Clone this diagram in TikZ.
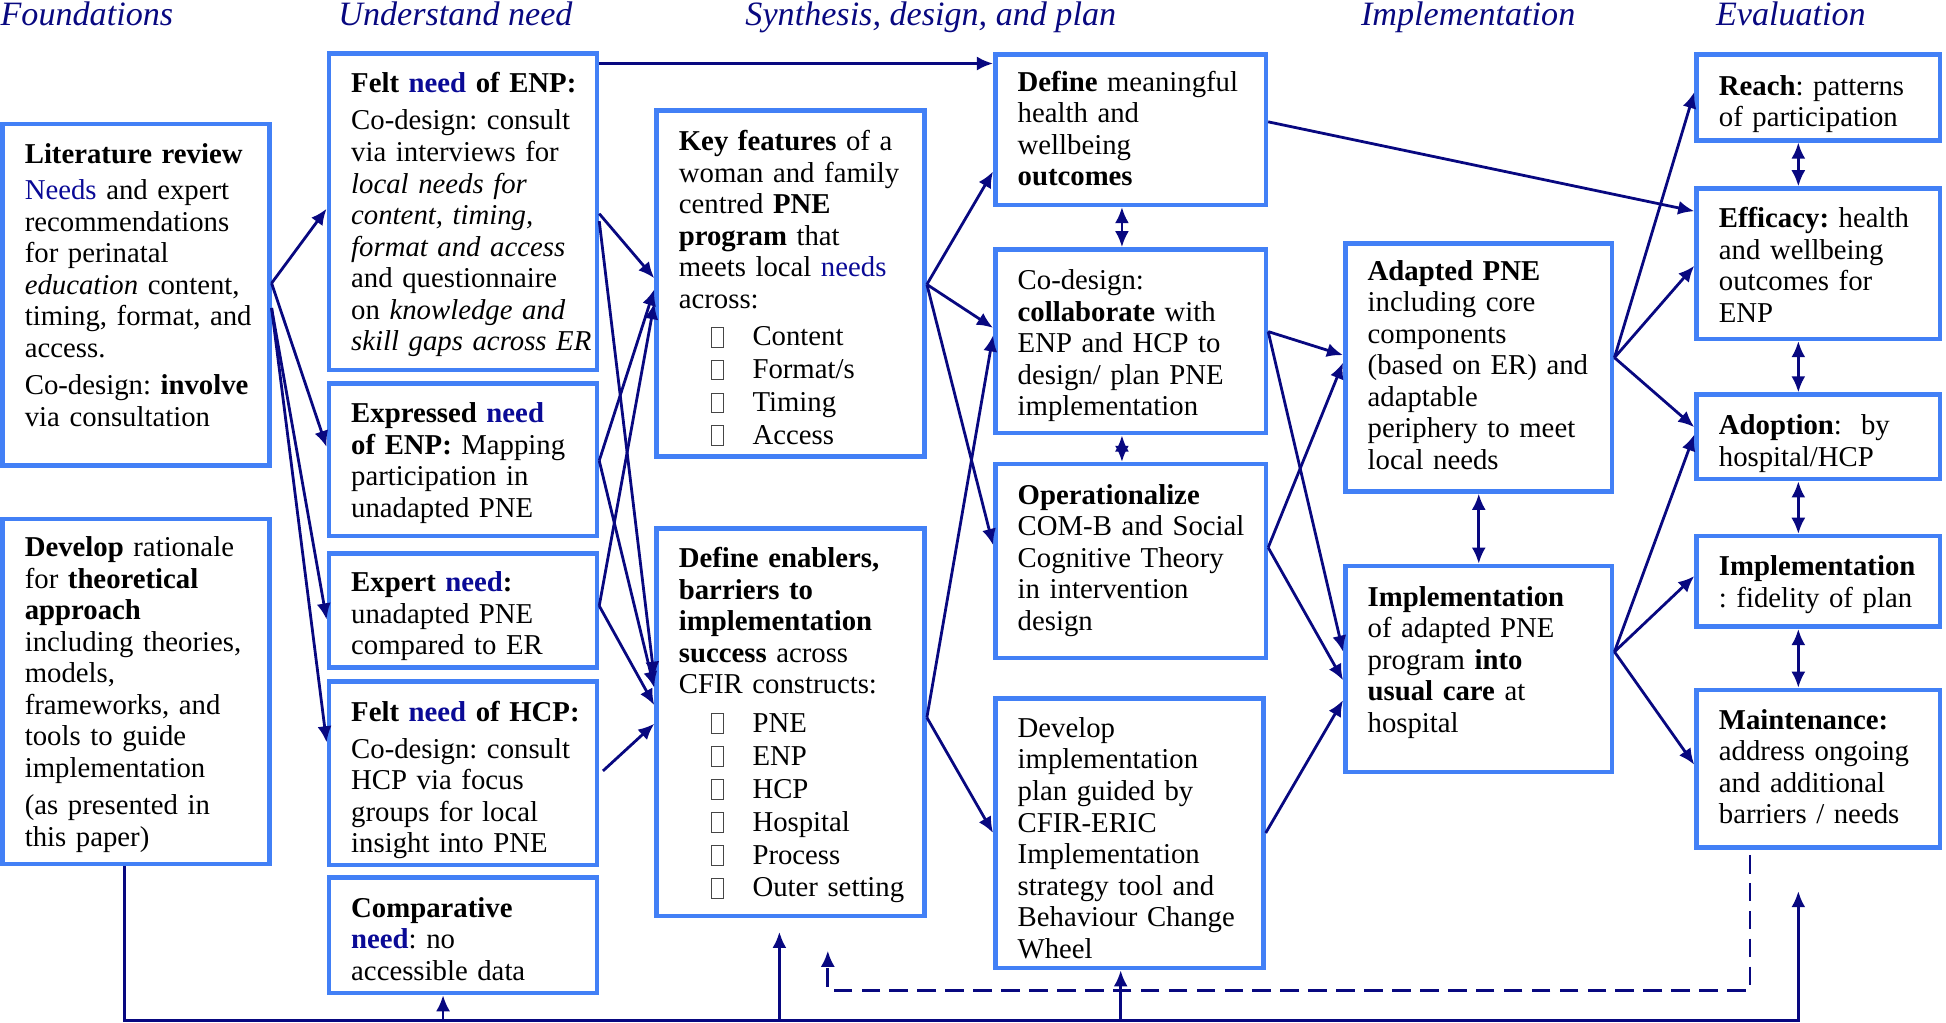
\documentclass[tikz,border=0pt]{standalone}
\usepackage{fontspec}
\setmainfont{Liberation Serif}
\usetikzlibrary{arrows.meta,calc}
\frenchspacing
\definecolor{boxblue}{RGB}{66,128,246}
\definecolor{navyc}{RGB}{8,8,128}
\definecolor{needc}{RGB}{10,10,150}
\definecolor{cbgray}{RGB}{70,70,70}
\newcommand\nd[1]{\textcolor{needc}{#1}}
\newcommand\cbx{\textcolor{cbgray}{\raisebox{-0.4pt}{\setlength{\fboxsep}{0pt}\setlength{\fboxrule}{0.5pt}\fbox{\rule{0pt}{9pt}\hspace{5.2pt}}}}}
\newcommand\li[1]{\hspace*{15.6pt}\cbx\hspace{13.8pt}#1}
\newcommand\tb[2][2.4pt]{\raisebox{-#1}[\height][\depth]{\begin{tabular}{@{}l@{}}#2\end{tabular}}}
\begin{document}
\begin{tikzpicture}[x=0.6pt,y=-0.6pt,
 box/.style={draw=boxblue,fill=white,line width=2.2pt,inner xsep=10.8pt,inner ysep=0pt,align=left,font=\fontsize{13.9}{15.24}\selectfont\frenchspacing,text=black},
 arr/.style={draw=navyc,line width=1.35pt,-{Latex[length=7.8pt,width=6.8pt]}},
 darr/.style={draw=navyc,line width=1.35pt,{Latex[length=7.8pt,width=6.8pt]}-{Latex[length=7.8pt,width=6.8pt]}},
 ttl/.style={font=\fontsize{16.5}{18}\selectfont\itshape,text=navyc,anchor=base,inner sep=0pt}]
\useasboundingbox (0,0) rectangle (1568,824);

% titles
\node[ttl] (t1) at (70,20.5) {Foundations};
\node[ttl] (t2) at (367,20.5) {Understand need};
\node[ttl] (t3) at (750,20.5) {Synthesis, design, and plan};
\node[ttl] (t4) at (1183,20.5) {Implementation};
\node[ttl] (t5) at (1443,20.5) {Evaluation};

% column 1
\node[box,text width=107.4pt,minimum height=165pt] (lit) at (109.5,237.5) {\tb[-3pt]{\textbf{Literature review}\\[2.2pt] \nd{Needs} and expert\\ recommendations\\ for perinatal\\ \textit{education} content,\\ timing, format, and\\ access.\\[2.8pt] Co-design: \textbf{involve}\\ via consultation}};
\node[box,text width=107.4pt,minimum height=166.8pt] (dev) at (109.5,557) {\tb[1.8pt]{\textbf{Develop} rationale\\ for \textbf{theoretical}\\ \textbf{approach}\\ including theories,\\ models,\\ frameworks, and\\ tools to guide\\ implementation\\[2.8pt] (as presented in\\ this paper)}};

% column 2
\node[box,text width=108pt,minimum height=153pt] (fENP) at (373,170.5) {\tb[1.8pt]{\textbf{Felt \nd{need} of ENP:}\\[2.8pt] Co-design: consult\\ via interviews for\\ \textit{local needs for}\\ \textit{content, timing,}\\ \textit{format and access}\\ and questionnaire\\ on \textit{knowledge and}\\ \textit{skill gaps across ER}}};
\node[box,text width=108pt,minimum height=73.8pt] (expr) at (373,370.5) {\tb[1.8pt]{\textbf{Expressed \nd{need}}\\ \textbf{of ENP:} Mapping\\ participation in\\ unadapted PNE}};
\node[box,text width=108pt,minimum height=55.2pt] (expt) at (373,492) {\tb[3pt]{\textbf{Expert \nd{need}:}\\ unadapted PNE\\ compared to ER}};
\node[box,text width=108pt,minimum height=88.8pt] (fHCP) at (373,623) {\tb[3.6pt]{\textbf{Felt \nd{need} of HCP:}\\[2.8pt] Co-design: consult\\ HCP via focus\\ groups for local\\ insight into PNE}};
\node[box,text width=108pt,minimum height=55.8pt] (comp) at (373,753.5) {\tb[3.6pt]{\textbf{Comparative}\\ \textbf{\nd{need}}: no\\ accessible data}};

% column 3
\node[box,text width=108pt,minimum height=167.4pt] (key) at (637,228.5) {\tb[3.6pt]{\textbf{Key features} of a\\ woman and family\\ centred \textbf{PNE}\\ \textbf{program} that\\ meets local \nd{needs}\\ across:\\[3pt] \li{Content}\\[0.6pt] \li{Format/s}\\[0.6pt] \li{Timing}\\[0.6pt] \li{Access}}};
\node[box,text width=108pt,minimum height=187.2pt] (enab) at (637,582) {\tb[1.8pt]{\textbf{Define enablers,}\\ \textbf{barriers to}\\ \textbf{implementation}\\ \textbf{success} across\\ CFIR constructs:\\[3.3pt] \li{PNE}\\[0.7pt] \li{ENP}\\[0.7pt] \li{HCP}\\[0.7pt] \li{Hospital}\\[0.7pt] \li{Process}\\[0.7pt] \li{Outer setting}}};

% column 4
\node[box,text width=109.2pt,minimum height=72.6pt] (outc) at (911,104.5) {\tb[1.2pt]{\textbf{Define} meaningful\\ health and\\ wellbeing\\ \textbf{outcomes}}};
\node[box,text width=109.2pt,minimum height=88.8pt] (codes) at (911,275) {\tb[2.4pt]{Co-design:\\ \textbf{collaborate} with\\ ENP and HCP to\\ design/ plan PNE\\ implementation}};
\node[box,text width=109.2pt,minimum height=93.6pt] (oper) at (911,452) {\tb[0pt]{\textbf{Operationalize}\\ COM-B and Social\\ Cognitive Theory\\ in intervention\\ design}};
\node[box,text width=108pt,minimum height=130.2pt] (devp) at (910,671.5) {\tb[3.9pt]{Develop\\ implementation\\ plan guided by\\ CFIR-ERIC\\ Implementation\\ strategy tool and\\ Behaviour Change\\ Wheel}};

% column 5
\node[box,text width=107.4pt,minimum height=120pt] (adap) at (1191.5,296) {\tb[0.6pt]{\textbf{Adapted PNE}\\ including core\\ components\\ (based on ER) and\\ adaptable\\ periphery to meet\\ local needs}};
\node[box,text width=107.4pt,minimum height=99.6pt] (impl) at (1191.5,539) {\tb[1.2pt]{\textbf{Implementation}\\ of adapted PNE\\ program \textbf{into}\\ \textbf{usual care} at\\ hospital\\[8pt]}};

% column 6
\node[box,text width=96pt,minimum height=41.4pt] (reach) at (1465,78.5) {\tb[3.6pt]{\textbf{Reach}: patterns\\ of participation}};
\node[box,text width=96pt,minimum height=72.6pt] (effi) at (1465,212.5) {\tb[2.4pt]{\textbf{Efficacy:} health\\ and wellbeing\\ outcomes for\\ ENP}};
\node[box,text width=96pt,minimum height=40.8pt] (adop) at (1465,352) {\tb[3.6pt]{\textbf{Adoption}:\ \ by\\ hospital/HCP}};
\node[box,text width=96pt,minimum height=43.8pt] (impf) at (1465,468.5) {\tb[1.8pt]{\textbf{Implementation}\\ : fidelity of plan}};
\node[box,text width=96pt,minimum height=76.2pt] (maint) at (1465,619.5) {\tb[0.6pt]{\textbf{Maintenance:}\\ address ongoing\\ and additional\\ barriers / needs}};

% top horizontal
\draw[arr] ($(fENP.north east)+(0,10)$) -- ($(outc.north west)+(0,9)$);

% foundations -> understand need
\draw[arr] ($(lit.north east)+(0,130)$) -- ($(fENP.north west)+(0,127)$);
\draw[arr] ($(lit.north east)+(0,130)$) -- ($(expr.north west)+(0,53)$);
\draw[arr] ($(lit.north east)+(0,150)$) -- ($(expt.north west)+(0,55)$);
\draw[arr] ($(lit.north east)+(0,150)$) -- ($(fHCP.north west)+(0,51)$);

% understand need -> synthesis
\draw[arr] ($(fENP.north east)+(0,131)$) -- ($(key.north west)+(0,137)$);
\draw[arr] ($(fENP.north east)+(0,137)$) -- ($(enab.north west)+(0,122)$);
\draw[arr] ($(expr.north east)+(0,64)$) -- ($(key.north west)+(0,146)$);
\draw[arr] ($(expr.north east)+(0,64)$) -- ($(enab.north west)+(0,130)$);
\draw[arr] ($(expt.north east)+(0,44)$) -- ($(key.north west)+(0,157)$);
\draw[arr] ($(expt.north east)+(0,44)$) -- ($(enab.north west)+(0,144)$);
\draw[arr] ($(fHCP.north east)+(3,74)$) -- ($(enab.north west)+(0,159)$);

% synthesis columns
\draw[arr] ($(key.north east)+(0,142)$) -- ($(outc.north west)+(0,96)$);
\draw[arr] ($(key.north east)+(0,142)$) -- ($(codes.north west)+(0,65)$);
\draw[arr] ($(key.north east)+(0,142)$) -- ($(oper.north west)+(0,67)$);
\draw[arr] ($(enab.north east)+(0,154)$) -- ($(codes.north west)+(0,71)$);
\draw[arr] ($(enab.north east)+(0,154)$) -- ($(devp.north west)+(0,110)$);

% -> implementation
\draw[arr] ($(codes.north east)+(0,68)$) -- ($(adap.north west)+(0,92)$);
\draw[arr] ($(codes.north east)+(0,68)$) -- ($(impl.north west)+(0,71)$);
\draw[arr] ($(oper.north east)+(0,69)$) -- ($(adap.north west)+(0,98)$);
\draw[arr] ($(oper.north east)+(0,69)$) -- ($(impl.north west)+(0,94)$);
\draw[arr] ($(devp.north east)+(0,110)$) -- ($(impl.north west)+(0,110)$);

% -> evaluation
\draw[arr] ($(outc.north east)+(0,56)$) -- ($(effi.north west)+(0,20)$);
\draw[arr] ($(adap.north east)+(0,94)$) -- ($(reach.north west)+(0,32)$);
\draw[arr] ($(adap.north east)+(0,94)$) -- ($(effi.north west)+(0,64)$);
\draw[arr] ($(adap.north east)+(0,94)$) -- ($(adop.north west)+(0,28)$);
\draw[arr] ($(impl.north east)+(0,71)$) -- ($(adop.north west)+(0,34)$);
\draw[arr] ($(impl.north east)+(0,71)$) -- ($(impf.north west)+(0,34)$);
\draw[arr] ($(impl.north east)+(0,71)$) -- ($(maint.north west)+(0,62)$);

% double arrows
\draw[darr] ($(outc.south)+(-7,0)$) -- ($(codes.north)+(-7,0)$);
\draw[darr] ($(codes.south)+(-7,0)$) -- ($(oper.north)+(-7,0)$);
\draw[darr] (adap.south) -- (impl.north);
\draw[darr] ($(reach.south)+(-16,0)$) -- ($(effi.north)+(-16,0)$);
\draw[darr] ($(effi.south)+(-16,0)$) -- ($(adop.north)+(-16,0)$);
\draw[darr] ($(adop.south)+(-16,0)$) -- ($(impf.north)+(-16,0)$);
\draw[darr] ($(impf.south)+(-16,0)$) -- ($(maint.north)+(-16,0)$);

% bottom feedback lines
\coordinate (bl) at (0,822);
\coordinate (dl) at (0,798);
\coordinate (maintfb) at (1449,718);
\coordinate (d0) at ($(dev.south)+(-9.5,0)$);
\coordinate (c0) at ($(comp.south)+(-16,0)$);
\coordinate (e0) at ($(enab.south)+(-9,11)$);
\coordinate (p0) at ($(devp.south)+(-7,0)$);
\coordinate (m0) at ($(maint.south)+(-55,4)$);
\coordinate (dashtip) at (667,766);
\draw[arr] (d0) -- (d0 |- bl) -| (maintfb);
\draw[arr] (c0 |- bl) -- (c0);
\draw[arr] (e0 |- bl) -- (e0);
\draw[arr] (p0 |- bl) -- (p0);
\draw[arr,dash pattern=on 9pt off 4.5pt] (m0) -- (m0 |- dl) -| (dashtip);
\end{tikzpicture}
\end{document}
